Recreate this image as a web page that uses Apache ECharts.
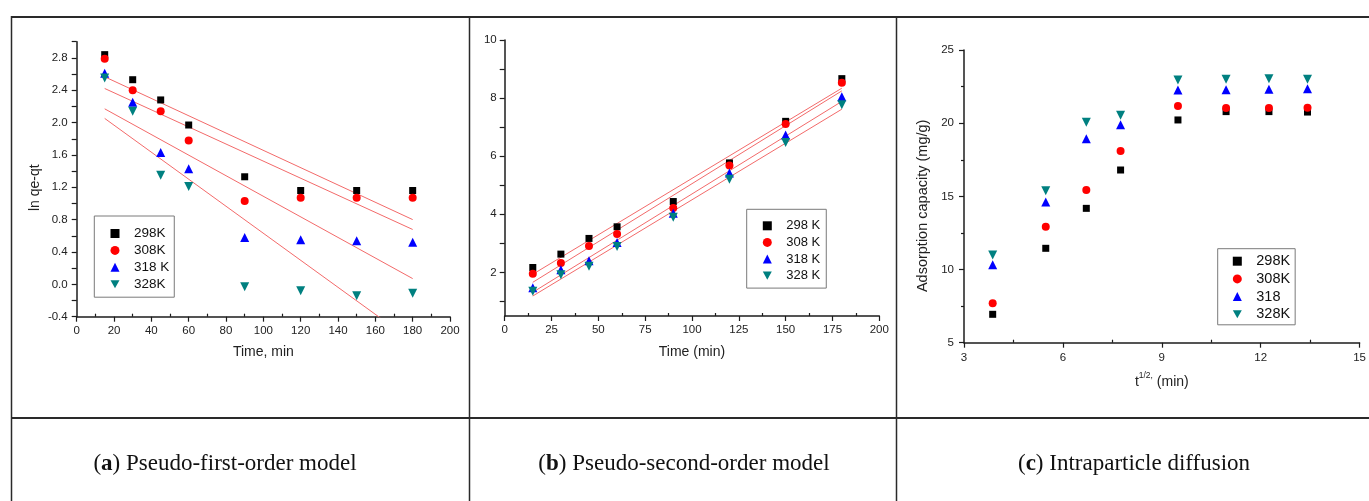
<!DOCTYPE html>
<html>
<head>
<meta charset="utf-8">
<script src="https://cdn.jsdelivr.net/npm/echarts@6/dist/echarts.min.js"></script>
<style>
  html, body { margin: 0; padding: 0; background: #fff; }
  #chart { width: 1369px; height: 501px; }
</style>
</head>
<body>
<div id="chart"></div>
<script>
// Contact time (min) and its square root
const times = [15, 30, 45, 60, 90, 120, 150, 180];
const sqrtTimes = [3.87, 5.48, 6.71, 7.75, 9.49, 10.95, 12.25, 13.42];

// (a) Pseudo-first-order: ln(qe - qt)
const pfoNames = ['298K', '308K', '318 K', '328K'];
const pfo298 = [2.84, 2.53, 2.28, 1.97, 1.33, 1.16, 1.16, 1.16];
const pfo308 = [2.79, 2.40, 2.14, 1.78, 1.03, 1.07, 1.07, 1.07];
const pfo318 = [2.61, 2.25, 1.63, 1.43, 0.58, 0.55, 0.54, 0.52];
const pfo328 = [2.55, 2.14, 1.35, 1.21, -0.03, -0.08, -0.14, -0.11];

// (b) Pseudo-second-order: t / qt
const psoNames = ['298 K', '308 K', '318 K', '328 K'];
const pso298 = [2.17, 2.63, 3.17, 3.57, 4.44, 5.77, 7.20, 8.67];
const pso308 = [1.95, 2.32, 2.91, 3.32, 4.22, 5.68, 7.11, 8.53];
const pso318 = [1.47, 2.09, 2.40, 3.03, 4.04, 5.42, 6.73, 8.05];
const pso328 = [1.35, 1.92, 2.21, 2.89, 3.90, 5.21, 6.47, 7.77];
const psoYLabels = [2, 4, 6, 8, 10];
const psoYTicks = [1, 2, 3, 4, 5, 6, 7, 8, 9, 10];

// (c) Intraparticle diffusion: adsorption capacity (mg/g)
const ipdNames = ['298K', '308K', '318', '328K'];
const ipd298 = [6.94, 11.45, 14.18, 16.80, 20.22, 20.79, 20.79, 20.76];
const ipd308 = [7.69, 12.93, 15.43, 18.10, 21.17, 21.04, 21.04, 21.06];
const ipd318 = [10.33, 14.61, 18.94, 19.90, 22.27, 22.29, 22.31, 22.36];
const ipd328 = [11.00, 15.39, 20.06, 20.54, 22.95, 23.00, 23.04, 23.00];

const colors = ['#000000', '#ff0000', '#0000ff', '#008080'];
const symbols = ['rect', 'circle', 'triangle', 'path://M0,0 L10,0 L5,9 Z'];
const symbolSizes = [7, 8, 9, 9];

const FONT = 'Liberation Sans';
const AXIS_COLOR = '#1c1c1c';

function pairs(xs, ys) { return xs.map((x, i) => [x, ys[i]]); }

// Least-squares straight line through the points, drawn across the x span
function fitLine(xs, ys) {
  const n = xs.length;
  const mx = xs.reduce((a, b) => a + b, 0) / n;
  const my = ys.reduce((a, b) => a + b, 0) / n;
  let sxy = 0, sxx = 0;
  for (let i = 0; i < n; i++) { sxy += (xs[i] - mx) * (ys[i] - my); sxx += (xs[i] - mx) ** 2; }
  const k = sxy / sxx, b = my - k * mx;
  const x0 = xs[0], x1 = xs[n - 1];
  return [[x0, k * x0 + b], [x1, k * x1 + b]];
}

function scatter(name, idx, grid, xs, ys) {
  return {
    type: 'scatter', name: name, xAxisIndex: grid, yAxisIndex: grid,
    data: pairs(xs, ys), symbol: symbols[idx], symbolSize: symbolSizes[idx],
    itemStyle: { color: colors[idx], opacity: 1 }, z: 3 + idx, silent: true
  };
}
function fit(grid, xs, ys) {
  return {
    type: 'line', xAxisIndex: grid, yAxisIndex: grid, data: fitLine(xs, ys),
    showSymbol: false, symbol: 'none', clip: true, silent: true, z: 2,
    lineStyle: { color: '#f36a6a', width: 1 }
  };
}

const baseLabel = { fontFamily: FONT, fontSize: 11.5, color: '#222' };
const baseLine = { show: true, onZero: false, lineStyle: { color: AXIS_COLOR, width: 1.5 } };

function xAxis(grid, min, max, interval, name, nameGap, margin) {
  return {
    type: 'value', gridIndex: grid, min: min, max: max, interval: interval,
    axisLine: baseLine,
    axisTick: { show: true, inside: false, length: 5, lineStyle: { color: AXIS_COLOR, width: 1.2 } },
    minorTick: { show: true, splitNumber: 2, length: -3, lineStyle: { color: AXIS_COLOR, width: 1.2 } },
    splitLine: { show: false }, minorSplitLine: { show: false },
    axisLabel: Object.assign({ margin: margin, showMaxLabel: true, showMinLabel: true }, baseLabel),
    name: name, nameLocation: 'middle', nameGap: nameGap,
    nameTextStyle: { fontFamily: FONT, fontSize: 14, color: '#222' }
  };
}

// Boxed vertical legend: square icon slot, text pushed right of the marker
function legend(names, left, top, fontSize, gap, padding) {
  return {
    orient: 'vertical', left: left, top: top, padding: padding,
    itemWidth: 9, itemHeight: 9, itemGap: gap,
    borderColor: '#7a7a7a', borderWidth: 1, backgroundColor: '#fff',
    selectedMode: false,
    textStyle: { fontFamily: FONT, fontSize: fontSize, color: '#111', padding: [0, 0, 0, 9.5] },
    data: names.map((n, i) => ({ name: n, icon: symbols[i], itemStyle: { color: colors[i] } }))
  };
}

const captionRich = { b: { fontWeight: 'bold', fontSize: 23, fontFamily: 'Liberation Serif', fill: '#111' } };
function caption(x, text) {
  return {
    type: 'text', x: x, y: 464, z: 10,
    style: {
      text: text, font: '23px "Liberation Serif"', fill: '#111',
      align: 'center', verticalAlign: 'middle', rich: captionRich
    }
  };
}
function rule(x1, y1, x2, y2, w) {
  return { type: 'line', shape: { x1: x1, y1: y1, x2: x2, y2: y2 }, style: { stroke: '#2a2a2a', lineWidth: w }, z: 10 };
}

const chart = echarts.init(document.getElementById('chart'), null, { renderer: 'canvas' });

const option = {
  backgroundColor: '#fff',
  animation: false,
  grid: [
    { left: 76.7, top: 41.7, width: 373.3, height: 275 },
    { left: 504.7, top: 40, width: 374.6, height: 276 },
    { left: 964, top: 50, width: 396.7, height: 292.7 }
  ],
  xAxis: [
    xAxis(0, 0, 200, 20, 'Time, min', 28, 8),
    xAxis(1, 0, 200, 25, 'Time (min)', 29, 8),
    Object.assign(xAxis(2, 3, 15, 3, '{t|t}{s|1/2,}{t| (min)}', 28, 9), {
      nameTextStyle: {
        fontFamily: FONT, color: '#222',
        rich: {
          t: { fontFamily: FONT, fontSize: 14, color: '#222', verticalAlign: 'bottom', lineHeight: 18 },
          s: { fontFamily: FONT, fontSize: 8.5, color: '#222', verticalAlign: 'top', lineHeight: 18, padding: [0, 0, 8, 0] }
        }
      }
    })
  ],
  yAxis: [
    {
      type: 'value', gridIndex: 0, min: -0.4, max: 3.0, interval: 0.2,
      axisLine: baseLine,
      axisTick: { show: true, length: 5, lineStyle: { color: AXIS_COLOR, width: 1.2 } },
      splitLine: { show: false },
      axisLabel: Object.assign({
        margin: 9,
        formatter: v => (Math.round(v * 10) % 4 === 0 ? v.toFixed(1) : '')
      }, baseLabel),
      name: 'ln qe-qt', nameLocation: 'middle', nameGap: 35,
      nameTextStyle: { fontFamily: FONT, fontSize: 14, color: '#222', padding: [0, 17, 0, 0] }
    },
    {
      type: 'value', gridIndex: 1, min: 0.5, max: 10,
      axisLine: baseLine,
      axisTick: { show: true, length: 5, customValues: psoYTicks, lineStyle: { color: AXIS_COLOR, width: 1.2 } },
      splitLine: { show: false },
      axisLabel: Object.assign({ margin: 8, customValues: psoYLabels }, baseLabel)
    },
    {
      type: 'value', gridIndex: 2, min: 5, max: 25, interval: 5,
      axisLine: baseLine,
      axisTick: { show: true, length: 5, lineStyle: { color: AXIS_COLOR, width: 1.2 } },
      minorTick: { show: true, splitNumber: 2, length: 3, lineStyle: { color: AXIS_COLOR, width: 1.2 } },
      splitLine: { show: false }, minorSplitLine: { show: false },
      axisLabel: Object.assign({ margin: 10 }, baseLabel),
      name: 'Adsorption capacity (mg/g)', nameLocation: 'middle', nameGap: 34,
      nameTextStyle: { fontFamily: FONT, fontSize: 14.5, color: '#222', padding: [0, 19, 0, 0] }
    }
  ],
  legend: [
    legend(pfoNames, 94.3, 216, 13.5, 2.9, [10.5, 5, 6, 16.2]),
    legend(psoNames, 746.7, 209.3, 13, 3.6, [10, 6, 6, 16.1]),
    legend(ipdNames, 1217.7, 248.7, 14.5, 2.7, [5, 5, 3, 15.1])
  ],
  series: [
    fit(0, times, pfo298), fit(0, times, pfo308), fit(0, times, pfo318), fit(0, times, pfo328),
    scatter(pfoNames[0], 0, 0, times, pfo298),
    scatter(pfoNames[1], 1, 0, times, pfo308),
    scatter(pfoNames[2], 2, 0, times, pfo318),
    scatter(pfoNames[3], 3, 0, times, pfo328),

    fit(1, times, pso298), fit(1, times, pso308), fit(1, times, pso318), fit(1, times, pso328),
    scatter(psoNames[0], 0, 1, times, pso298),
    scatter(psoNames[1], 1, 1, times, pso308),
    scatter(psoNames[2], 2, 1, times, pso318),
    scatter(psoNames[3], 3, 1, times, pso328),

    scatter(ipdNames[0], 0, 2, sqrtTimes, ipd298),
    scatter(ipdNames[1], 1, 2, sqrtTimes, ipd308),
    scatter(ipdNames[2], 2, 2, sqrtTimes, ipd318),
    scatter(ipdNames[3], 3, 2, sqrtTimes, ipd328)
  ],
  graphic: [
    // table frame
    rule(11, 17, 1369, 17, 2),
    rule(11, 418, 1369, 418, 2),
    rule(11.5, 16, 11.5, 501, 1.5),
    rule(469.5, 16, 469.5, 501, 1.5),
    rule(896.5, 16, 896.5, 501, 1.5),
    // captions
    caption(225, '({b|a}) Pseudo-first-order model'),
    caption(684, '({b|b}) Pseudo-second-order model'),
    caption(1134, '({b|c}) Intraparticle diffusion')
  ]
};

chart.setOption(option);
</script>
</body>
</html>
